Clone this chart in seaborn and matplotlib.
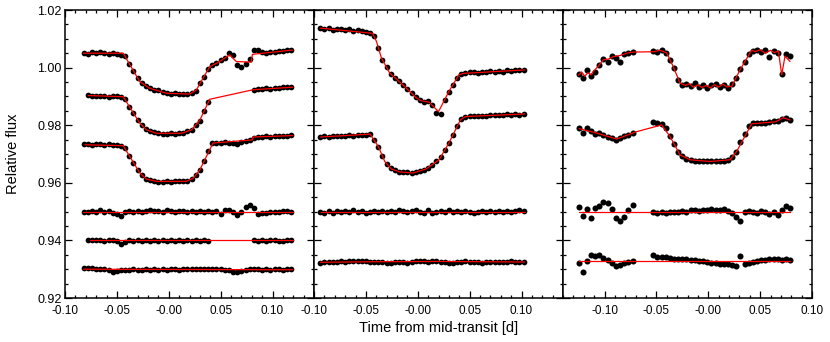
import numpy as np
import pandas as pd
import matplotlib
matplotlib.use('Agg')
import matplotlib.pyplot as plt
import seaborn as sns

nan = np.nan

# ---- time grids of the plotted points, in units of 1e-3 d ----
T1 = [-82, -78, -74, -70, -66, -62, -58, -54, -50, -46,
      -42, -38, -34, -30, -26, -22, -18, -14, -10, -6,
      -2, 2, 6, 10, 14, 18, 22, 26, 30, 34,
      38, 42, 46, 50, 54, 58, 62, 66, 70, 74,
      78, 82, 86, 90, 94, 98, 102, 106, 110, 114,
      118]
T2 = [-94, -90, -86, -82, -78, -74, -70, -66, -62, -58,
      -54, -50, -46, -42, -38, -34, -30, -26, -22, -18,
      -14, -10, -6, -2, 2, 6, 10, 14, 18, 22,
      26, 30, 34, 38, 42, 46, 50, 54, 58, 62,
      66, 70, 74, 78, 82, 86, 90, 94, 98, 102]
T3 = [-125, -121, -117, -113, -109, -105, -101, -97, -93, -89,
      -85, -81, -77, -73, -69, -65, -61, -57, -53, -49,
      -45, -41, -37, -33, -29, -25, -21, -17, -13, -9,
      -5, -1, 3, 7, 11, 15, 19, 23, 27, 31,
      35, 39, 43, 47, 51, 55, 59, 63, 67, 71,
      75, 79]

# ---- panel 1 light curves (relative flux) ----
A = [1.0051, 1.0048, 1.0053, 1.0049, 1.0055, 1.0050, 1.0046, 1.0049, 1.0047, 1.0044,
     1.0040, 1.0013, 0.9987, 0.9964, 0.9948, 0.9935, 0.9929, 0.9922, 0.9921, 0.9914,
     0.9912, 0.9909, 0.9911, 0.9908, 0.9910, 0.9907, 0.9913, 0.9920, 0.9945, 0.9968,
     0.9994, 1.0009, 1.0016, 1.0026, 1.0034, 1.0050, 1.0045, 1.0010, 1.0003, 1.0012,
     1.0030, 1.0060, 1.0062, 1.0055, 1.0050, 1.0053, 1.0054, 1.0056, 1.0057, 1.0060,
     1.0062]
B = [nan, 0.9905, 0.9901, 0.9903, 0.9900, 0.9902, 0.9899, 0.9901, 0.9902, 0.9898,
     0.9890, 0.9864, 0.9841, 0.9818, 0.9800, 0.9786, 0.9780, 0.9775, 0.9772, 0.9771,
     0.9770, 0.9773, 0.9771, 0.9774, 0.9772, 0.9780, 0.9783, 0.9801, 0.9816, 0.9849,
     0.9879, nan, nan, nan, nan, nan, nan, nan, nan, nan,
     nan, 0.9922, 0.9926, 0.9925, 0.9928, 0.9926, 0.9930, 0.9929, 0.9932, 0.9931,
     0.9934]
C = [0.9733, 0.9735, 0.9731, 0.9734, 0.9733, 0.9730, 0.9733, 0.9732, 0.9730, 0.9728,
     0.9722, 0.9694, 0.9670, 0.9646, 0.9628, 0.9614, 0.9609, 0.9606, 0.9604, 0.9603,
     0.9605, 0.9604, 0.9605, 0.9606, 0.9605, 0.9607, 0.9613, 0.9626, 0.9645, 0.9676,
     0.9710, 0.9737, 0.9739, 0.9738, 0.9741, 0.9739, 0.9737, 0.9734, 0.9741, 0.9744,
     0.9747, 0.9757, 0.9759, 0.9758, 0.9761, 0.9760, 0.9762, 0.9761, 0.9764, 0.9763,
     0.9765]
D = [0.9500, 0.9497, 0.9502, 0.9499, 0.9504, 0.9498, 0.9501, 0.9496, 0.9493, 0.9485,
     0.9497, 0.9501, 0.9499, 0.9503, 0.9500, 0.9502, 0.9504, 0.9501, 0.9503, 0.9500,
     0.9504, 0.9502, 0.9500, 0.9503, 0.9501, 0.9499, 0.9502, 0.9500, 0.9503, 0.9499,
     0.9501, 0.9498, 0.9502, 0.9490, 0.9504, 0.9506, 0.9500, 0.9488, 0.9497, 0.9515,
     0.9524, 0.9514, 0.9492, 0.9494, 0.9496, 0.9497, 0.9499, 0.9500, 0.9503, 0.9502,
     0.9500]
E = [nan, 0.9401, 0.9403, 0.9400, 0.9402, 0.9399, 0.9401, 0.9400, 0.9398, 0.9389,
     0.9396, 0.9400, 0.9398, 0.9401, 0.9399, 0.9400, 0.9397, 0.9401, 0.9399, 0.9400,
     0.9398, 0.9401, 0.9399, 0.9400, 0.9398, 0.9401, 0.9399, 0.9400, 0.9397, 0.9400,
     0.9399, nan, nan, nan, nan, nan, nan, nan, nan, nan,
     nan, 0.9400, 0.9398, 0.9401, 0.9399, 0.9400, 0.9402, 0.9399, 0.9397, 0.9401,
     0.9400]
F = [0.9303, 0.9305, 0.9304, 0.9302, 0.9301, 0.9300, 0.9297, 0.9292, 0.9294, 0.9297,
     0.9298, 0.9296, 0.9299, 0.9297, 0.9298, 0.9300, 0.9297, 0.9299, 0.9298, 0.9300,
     0.9298, 0.9299, 0.9300, 0.9298, 0.9301, 0.9299, 0.9300, 0.9302, 0.9300, 0.9301,
     0.9299, 0.9302, 0.9300, 0.9301, 0.9298, 0.9296, 0.9291, 0.9289, 0.9294, 0.9298,
     0.9300, 0.9302, 0.9300, 0.9298, 0.9300, 0.9297, 0.9299, 0.9301, 0.9298, 0.9300,
     0.9299]

# ---- panel 2 light curves ----
G = [1.0136, 1.0134, 1.0137, 1.0131, 1.0135, 1.0133, 1.0130, 1.0134, 1.0128, 1.0130,
     1.0126, 1.0124, 1.0121, 1.0108, 1.0069, 1.0026, 1.0001, 0.9978, 0.9965, 0.9952,
     0.9939, 0.9925, 0.9911, 0.9897, 0.9887, 0.9882, 0.9884, 0.9869, 0.9842, 0.9840,
     0.9889, 0.9917, 0.9941, 0.9965, 0.9978, 0.9982, 0.9983, 0.9984, 0.9982, 0.9986,
     0.9985, 0.9987, 0.9984, 0.9988, 0.9986, 0.9990, 0.9989, 0.9993, 0.9991, 0.9993]
H = [0.9758, 0.9761, 0.9760, 0.9762, 0.9761, 0.9764, 0.9762, 0.9765, 0.9764, 0.9766,
     0.9766, 0.9767, 0.9768, 0.9748, 0.9726, 0.9692, 0.9667, 0.9650, 0.9644, 0.9639,
     0.9637, 0.9636, 0.9634, 0.9636, 0.9640, 0.9645, 0.9652, 0.9662, 0.9674, 0.9689,
     0.9713, 0.9738, 0.9767, 0.9796, 0.9821, 0.9830, 0.9831, 0.9832, 0.9833, 0.9833,
     0.9833, 0.9836, 0.9834, 0.9837, 0.9835, 0.9838, 0.9836, 0.9839, 0.9837, 0.9840]
I = [0.9497, 0.9494, 0.9501, 0.9496, 0.9503, 0.9499, 0.9502, 0.9500, 0.9504, 0.9498,
     0.9501, 0.9496, 0.9500, 0.9503, 0.9499, 0.9501, 0.9497, 0.9502, 0.9500, 0.9504,
     0.9501, 0.9498, 0.9503, 0.9506, 0.9500, 0.9496, 0.9505, 0.9494, 0.9499, 0.9502,
     0.9500, 0.9504, 0.9497, 0.9501, 0.9499, 0.9503, 0.9497, 0.9495, 0.9500, 0.9503,
     0.9499, 0.9501, 0.9497, 0.9502, 0.9500, 0.9503, 0.9499, 0.9501, 0.9504, 0.9501]
J = [0.9323, 0.9325, 0.9324, 0.9326, 0.9325, 0.9327, 0.9326, 0.9328, 0.9327, 0.9329,
     0.9328, 0.9327, 0.9326, 0.9325, 0.9326, 0.9324, 0.9322, 0.9323, 0.9325, 0.9326,
     0.9324, 0.9323, 0.9325, 0.9327, 0.9328, 0.9327, 0.9326, 0.9327, 0.9328, 0.9326,
     0.9325, 0.9323, 0.9322, 0.9324, 0.9325, 0.9327, 0.9326, 0.9324, 0.9325, 0.9323,
     0.9324, 0.9326, 0.9325, 0.9324, 0.9325, 0.9326, 0.9327, 0.9325, 0.9326, 0.9324]

# ---- panel 3 light curves ----
K = [0.9978, 0.9965, 0.9990, 0.9972, 0.9983, 1.0010, 1.0030, 1.0018, 1.0042, 1.0035,
     1.0020, 1.0047, 1.0052, 1.0055, nan, nan, nan, nan, 1.0058, 1.0054,
     1.0062, 1.0050, 1.0028, 0.9998, 0.9958, 0.9940, 0.9942, 0.9936, 0.9945, 0.9933,
     0.9941, 0.9930, 0.9938, 0.9944, 0.9932, 0.9940, 0.9928, 0.9943, 0.9965, 0.9995,
     1.0020, 1.0048, 1.0058, 1.0062, 1.0055, 1.0060, 1.0038, 1.0058, 1.0050, 0.9978,
     1.0048, 1.0040]
L = [0.9790, 0.9772, 0.9792, 0.9780, 0.9768, 0.9774, 0.9766, 0.9760, 0.9754, 0.9750,
     0.9756, 0.9762, 0.9766, 0.9772, nan, nan, nan, nan, 0.9810, 0.9808,
     0.9804, 0.9790, 0.9762, 0.9735, 0.9706, 0.9692, 0.9684, 0.9679, 0.9677, 0.9675,
     0.9674, 0.9674, 0.9674, 0.9675, 0.9676, 0.9677, 0.9679, 0.9688, 0.9706, 0.9740,
     0.9770, 0.9797, 0.9806, 0.9807, 0.9808, 0.9809, 0.9812, 0.9815, 0.9816, 0.9822,
     0.9824, 0.9818]
M = [0.9515, 0.9485, 0.9508, 0.9478, 0.9512, 0.9520, 0.9535, 0.9530, 0.9510, 0.9478,
     0.9468, 0.9482, 0.9505, 0.9522, nan, nan, nan, nan, 0.9497, 0.9494,
     0.9498, 0.9495, 0.9499, 0.9497, 0.9500, 0.9502, 0.9499, 0.9504, 0.9506, 0.9503,
     0.9507, 0.9505, 0.9509, 0.9504, 0.9506, 0.9508, 0.9503, 0.9495, 0.9482, 0.9468,
     0.9497, 0.9502, 0.9500, 0.9496, 0.9503, 0.9498, 0.9492, 0.9500, 0.9488, 0.9505,
     0.9520, 0.9512]
N = [0.9320, 0.9290, 0.9330, 0.9348, 0.9345, 0.9350, 0.9340, 0.9332, 0.9320, 0.9312,
     0.9316, 0.9322, 0.9325, 0.9328, nan, nan, nan, nan, 0.9348, 0.9344,
     0.9342, 0.9341, 0.9338, 0.9337, 0.9337, 0.9334, 0.9335, 0.9332, 0.9331, 0.9328,
     0.9327, 0.9324, 0.9323, 0.9320, 0.9319, 0.9317, 0.9317, 0.9314, 0.9312, 0.9345,
     0.9318, 0.9322, 0.9326, 0.9328, 0.9331, 0.9332, 0.9334, 0.9334, 0.9336, 0.9331,
     0.9334, 0.9332]

# ---- model curves (red lines): vertices, time in 1e-3 d ----
MA_t = [-82.4, -43.9, -27.9, -18.2, -2.2, 20.3, 26.7, 33.0, 39.5, 47.5, 58.7, 65.1, 79.6, 80.6, 119.6]
MA_f = [1.0050, 1.0050, 0.9951, 0.9928, 0.9911, 0.9908, 0.9923, 0.9963, 1.0003, 1.0018, 1.0044, 1.0021, 1.0019, 1.0046, 1.0061]
MB_t = [-77.6, -43.9, -27.9, -21.5, -11.8, 12.4, 22.0, 30.0, 39.5, 81.1, 119.6]
MB_f = [0.9903, 0.9899, 0.9807, 0.9784, 0.9772, 0.9772, 0.9784, 0.9818, 0.9890, 0.9923, 0.9932]
MC_t = [-80.8, -43.9, -27.9, -21.5, -11.8, 17.0, 23.5, 30.0, 42.6, 80.6, 81.2, 119.6]
MC_f = [0.9732, 0.9729, 0.9634, 0.9613, 0.9605, 0.9605, 0.9616, 0.9645, 0.9738, 0.9749, 0.9759, 0.9764]
MD_t, MD_f = [-82.4, 119.6], [0.9500, 0.9500]
ME_t, ME_f = [-76.0, 119.6], [0.9400, 0.9400]
MF_t, MF_f = [-82.4, 119.6], [0.9300, 0.9298]

MG_t = [-93.7, -43.5, -39.7, -35.0, -27.0, -14.3, -1.7, 3.0, 11.0, 20.0, 30.0, 39.7, 44.4, 103.1]
MG_f = [1.0137, 1.0119, 1.0090, 1.0033, 0.9981, 0.9940, 0.9896, 0.9885, 0.9880, 0.9847, 0.9917, 0.9975, 0.9980, 0.9992]
MH_t = [-93.7, -46.0, -38.0, -31.8, -25.5, -17.5, -4.8, 7.9, 20.6, 30.0, 41.2, 46.0, 103.1]
MH_f = [0.9759, 0.9769, 0.9726, 0.9674, 0.9648, 0.9638, 0.9634, 0.9648, 0.9680, 0.9738, 0.9819, 0.9830, 0.9839]
MI_t, MI_f = [-93.7, 103.1], [0.9499, 0.9499]
MJ_t, MJ_f = [-93.7, -40.0, 20.0, 103.1], [0.9324, 0.9326, 0.9327, 0.9325]

MK_t = [-125.2, -122.0, -119.0, -116.0, -113.0, -110.8, -106.0, -101.2, -96.0, -91.5, -85.0, -78.6, -72.2,
        -53.0, -46.5, -40.0, -33.7, -27.2, -22.0, -18.0, -14.4, -10.0, -6.0, -2.0, 2.0, 6.0, 10.0, 14.0,
        18.0, 22.6, 30.6, 41.9, 45.0, 50.0, 55.0, 60.0, 64.0, 67.6, 70.8, 74.0, 78.8]
MK_f = [0.9973, 0.9985, 0.9970, 0.9982, 0.9975, 0.9986, 1.0005, 1.0027, 1.0030, 1.0038, 1.0042, 1.0050, 1.0054,
        1.0055, 1.0060, 1.0051, 1.0003, 0.9946, 0.9938, 0.9944, 0.9932, 0.9940, 0.9931, 0.9938, 0.9929, 0.9941, 0.9932, 0.9943,
        0.9933, 0.9935, 0.9992, 1.0061, 1.0055, 1.0062, 1.0050, 1.0060, 1.0052, 1.0058, 0.9975, 1.0040, 1.0021]
ML_t = [-124.3, -110.0, -88.2, -70.6, -44.9, -36.9, -27.2, -17.6, 1.7, 21.0, 27.4, 41.9, 56.4, 65.0, 72.4, 78.8]
ML_f = [0.9788, 0.9775, 0.9752, 0.9776, 0.9801, 0.9761, 0.9697, 0.9680, 0.9674, 0.9680, 0.9709, 0.9805, 0.9809, 0.9812, 0.9826, 0.9818]
MM_t, MM_f = [-124.3, 78.8], [0.9499, 0.9499]
MN_t, MN_f = [-124.3, 78.8], [0.9328, 0.9328]

XTICKS = [-0.10, -0.05, 0.0, 0.05, 0.10]
XTICK_LABELS = ['-0.10', '-0.05', '-0.00', '0.05', '0.10']
YTICKS = [0.92, 0.94, 0.96, 0.98, 1.00, 1.02]
YTICK_LABELS = ['0.92', '0.94', '0.96', '0.98', '1.00', '1.02']

panels = [
    (T1, [A, B, C, D, E, F],
     [(MA_t, MA_f), (MB_t, MB_f), (MC_t, MC_f), (MD_t, MD_f), (ME_t, ME_f), (MF_t, MF_f)], (-0.10, 0.14)),
    (T2, [G, H, I, J],
     [(MG_t, MG_f), (MH_t, MH_f), (MI_t, MI_f), (MJ_t, MJ_f)], (-0.10, 0.14)),
    (T3, [K, L, M, N],
     [(MK_t, MK_f), (ML_t, ML_f), (MM_t, MM_f), (MN_t, MN_f)], (-0.14, 0.10)),
]

sns.set_style('ticks', {'axes.edgecolor': 'black', 'xtick.color': 'black',
                        'ytick.color': 'black', 'text.color': 'black'})
plt.rcParams['font.family'] = ['Liberation Sans', 'DejaVu Sans']

fig = plt.figure(figsize=(8.3, 3.42), dpi=100)
fig.patch.set_facecolor('white')

for i, (T, curves, models, xlim) in enumerate(panels):
    ax = fig.add_axes([(65 + 249 * i) / 830, 44 / 342, 249 / 830, 288 / 342])
    df = pd.concat([pd.DataFrame({'t': np.array(T) / 1000.0, 'flux': c}) for c in curves]).dropna()
    # the noisy curves of the last panel have a bit bigger dots
    sizes = 17 if i < 2 else 19
    sns.scatterplot(data=df, x='t', y='flux', color='black', s=sizes, linewidth=0,
                    ax=ax, legend=False, zorder=2)
    for mt, mf in models:
        sns.lineplot(x=np.array(mt) / 1000.0, y=mf, color='red', lw=0.9, ax=ax,
                     sort=False, estimator=None, zorder=3)

    ax.set_xlim(*xlim)
    ax.set_ylim(0.92, 1.02)
    ax.set_xticks(XTICKS)
    ax.set_xticklabels(XTICK_LABELS)
    ax.set_yticks(YTICKS)
    ax.set_yticklabels(YTICK_LABELS)
    ax.xaxis.set_minor_locator(plt.MultipleLocator(0.01))
    ax.yaxis.set_minor_locator(plt.MultipleLocator(0.005))
    ax.tick_params(which='both', direction='in', top=True, right=True, width=0.9)
    ax.tick_params(which='major', length=5)
    ax.tick_params(which='minor', length=2.5)
    ax.tick_params(axis='x', pad=5, labelsize=8.5)
    ax.tick_params(axis='y', pad=2.5, labelsize=9)
    if i > 0:
        ax.tick_params(labelleft=False)
    ax.set_xlabel('')
    ax.set_ylabel('')
    for s in ax.spines.values():
        s.set_linewidth(1.1)

fig.text(13 / 830, 1 - 154 / 342, 'Relative flux', rotation=90, ha='center', va='center', fontsize=10.5)
fig.text(438.5 / 830, 1 - 328 / 342, 'Time from mid-transit [d]', ha='center', va='center', fontsize=10.5)

fig.savefig('out.png', dpi=100, facecolor='white')
